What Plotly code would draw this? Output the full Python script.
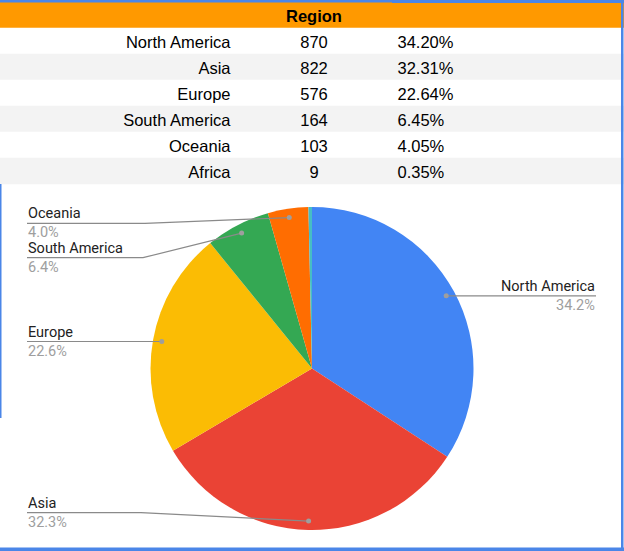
import math
import plotly.graph_objects as go

# ---- data ----
regions = ["North America", "Asia", "Europe", "South America", "Oceania", "Africa"]
counts = [870, 822, 576, 164, 103, 9]
pct_table = ["34.20%", "32.31%", "22.64%", "6.45%", "4.05%", "0.35%"]
pct_labels = ["34.2%", "32.3%", "22.6%", "6.4%", "4.0%", "0.35%"]
header_title = "Region"

# ---- style / layout (pixel space of the 624x551 canvas) ----
W, H = 624, 551
colors = ["#4285F4", "#EA4335", "#FBBC04", "#34A853", "#FF6D01", "#46BDC6"]
BLUE = "#4a86e8"
ORANGE = "#ff9900"
STRIPE = "#f3f3f3"
TABLE_FONT = dict(family="Liberation Sans, Arial", size=16.5, color="black")
LABEL_SIZE = 14.5
HEADER_BOTTOM = 27.7
ROW_H = 26.0
TEXT_DY = 16.5          # text anchor offset from the top of a row
HEADER_TEXT_Y = 18.0
COL1_RIGHT, COL2_CENTER, COL3_LEFT = 230.5, 314, 397.5
cx, cy, R = 312.0, 368.5, 161.5
label_layout = {
    "North America": dict(side="right"),
    "Asia": dict(side="left", line_y=512.7, bend=141),
    "Europe": dict(side="left"),
    "South America": dict(side="left", line_y=257.7, bend=143),
    "Oceania": dict(side="left", line_y=223.3, bend=145),
}
LEFT_X, RIGHT_X = 27, 596


def px(x):
    return x / W


def py(y):
    return 1 - y / H


fig = go.Figure()
shapes = []
annotations = []

# ---- table ----
n = len(regions)
row_tops = [HEADER_BOTTOM + ROW_H * i for i in range(n)]
shapes.append(dict(type="rect", xref="x", yref="y", x0=0, x1=W, y0=0, y1=HEADER_BOTTOM,
                   fillcolor=ORANGE, line=dict(width=0), layer="below"))
for i, top in enumerate(row_tops):
    if i % 2 == 1:
        shapes.append(dict(type="rect", xref="x", yref="y", x0=0, x1=W, y0=top,
                           y1=top + ROW_H + (0.6 if i == n - 1 else 0),
                           fillcolor=STRIPE, line=dict(width=0), layer="below"))
text_y = [t + TEXT_DY for t in row_tops]
fig.add_trace(go.Scatter(x=[COL2_CENTER], y=[HEADER_TEXT_Y], mode="text",
                         text=[f"<b>{header_title}</b>"], textposition="middle center",
                         textfont=TABLE_FONT, hoverinfo="skip", showlegend=False))
fig.add_trace(go.Scatter(x=[COL1_RIGHT] * n, y=text_y, mode="text", text=regions,
                         textposition="middle left", textfont=TABLE_FONT,
                         hoverinfo="skip", showlegend=False))
fig.add_trace(go.Scatter(x=[COL2_CENTER] * n, y=text_y, mode="text",
                         text=[str(c) for c in counts], textposition="middle center",
                         textfont=TABLE_FONT, hoverinfo="skip", showlegend=False))
fig.add_trace(go.Scatter(x=[COL3_LEFT] * n, y=text_y, mode="text", text=pct_table,
                         textposition="middle right", textfont=TABLE_FONT,
                         hoverinfo="skip", showlegend=False))

# ---- pie ----
fig.add_trace(go.Pie(
    labels=regions, values=counts, sort=False, direction="clockwise",
    rotation=0, textinfo="none", hoverinfo="label+value+percent",
    marker=dict(colors=colors, line=dict(width=0)),
    domain=dict(x=[px(cx - R), px(cx + R)], y=[py(cy + R), py(cy - R)]),
    showlegend=False,
))

total = sum(counts)
cum = 0
for name, v, pl in zip(regions, counts, pct_labels):
    mid = (cum + v / 2) / total * 2 * math.pi
    cum += v
    if name not in label_layout:
        continue
    spec = label_layout[name]
    r = 0.945 * R
    dx, dy = cx + r * math.sin(mid), cy - r * math.cos(mid)
    ly = spec.get("line_y", dy)
    if spec["side"] == "right":
        ex = RIGHT_X
        path = f"M {dx} {dy} L {ex} {ly}"
        xanchor = "right"
    else:
        ex = LEFT_X
        bend = spec.get("bend")
        if bend is None:
            path = f"M {dx} {dy} L {ex} {ly}"
        else:
            path = f"M {dx} {dy} L {bend} {ly} L {ex} {ly}"
        xanchor = "left"
    shapes.append(dict(type="path", xref="x", yref="y", path=path,
                       line=dict(color="#8a8a8a", width=1.2)))
    shapes.append(dict(type="circle", xref="x", yref="y",
                       x0=dx - 2.5, x1=dx + 2.5, y0=dy - 2.5, y1=dy + 2.5,
                       fillcolor="#9e9e9e", line=dict(width=0)))
    annotations.append(dict(x=ex, y=ly, xref="x", yref="y",
                            text=name, showarrow=False, xanchor=xanchor, yanchor="bottom",
                            font=dict(family="Roboto", size=LABEL_SIZE, color="#222222"),
                            borderpad=0))
    annotations.append(dict(x=ex, y=ly, xref="x", yref="y",
                            text=pl, showarrow=False, xanchor=xanchor, yanchor="top",
                            font=dict(family="Roboto", size=LABEL_SIZE, color="#9e9e9e"),
                            borderpad=0))

# ---- frame borders ----
shapes += [
    dict(type="rect", xref="x", yref="y", x0=0, x1=392, y0=0, y1=2.5,
         fillcolor=BLUE, line=dict(width=0)),
    dict(type="rect", xref="x", yref="y", x0=392, x1=W, y0=0, y1=3,
         fillcolor=BLUE, line=dict(width=0)),
    dict(type="rect", xref="x", yref="y", x0=621, x1=623.5, y0=3, y1=549,
         fillcolor=BLUE, line=dict(width=0)),
    dict(type="rect", xref="x", yref="y", x0=0, x1=W, y0=547.5, y1=H,
         fillcolor=BLUE, line=dict(width=0)),
    dict(type="rect", xref="x", yref="y", x0=0, x1=1.5, y0=184, y1=418,
         fillcolor=BLUE, line=dict(width=0)),
]

fig.update_layout(width=W, height=H, margin=dict(l=0, r=0, t=0, b=0),
                  paper_bgcolor="white", plot_bgcolor="rgba(0,0,0,0)",
                  xaxis=dict(range=[0, W], visible=False, fixedrange=True),
                  yaxis=dict(range=[H, 0], visible=False, fixedrange=True),
                  shapes=shapes, annotations=annotations, showlegend=False)

fig.write_html("out.html", config={"displayModeBar": False},
               post_script="document.body.style.margin='0';document.body.style.overflow='hidden';")
